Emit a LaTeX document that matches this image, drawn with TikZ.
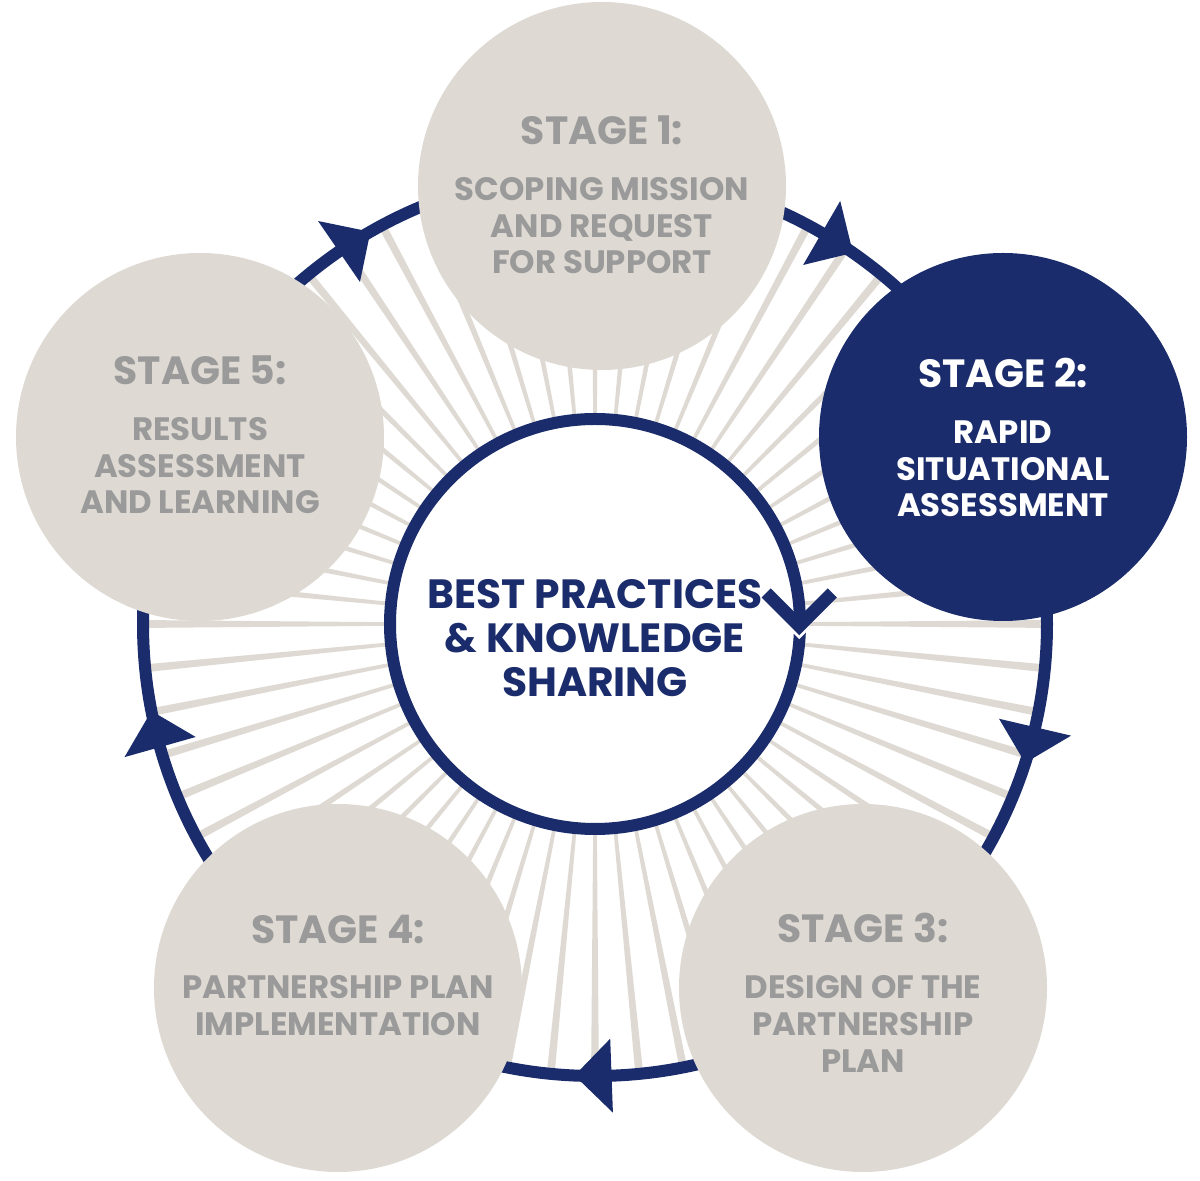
\documentclass[tikz,border=0pt]{standalone}
\usepackage{fontspec}
\setmainfont{Poppins}
\usetikzlibrary{positioning}
\definecolor{stagenavy}{HTML}{1A2C6B}
\definecolor{stonegray}{HTML}{DEDAD3}
\definecolor{labelgray}{HTML}{9A9A9A}

\begin{document}
\begin{tikzpicture}[x=1bp,y=1bp,
    stage/.style={circle,fill=stonegray,minimum size=368bp,inner sep=0pt},
    stagetitle/.style={font=\fontsize{39.5}{39.5}\selectfont\bfseries,text=labelgray,inner sep=0pt},
    stagetext/.style={font=\fontsize{32.5}{37}\selectfont\bfseries,text=labelgray,align=center,inner sep=0pt},
    hubtext/.style={font=\fontsize{41}{44.5}\selectfont\bfseries,text=stagenavy,align=center,inner sep=0pt}]
\useasboundingbox (0,0) rectangle (1200,1181);
\coordinate (c) at (595,557);

% Rayons et anneau
\begin{scope}[shift={(c)}]
\foreach \a in {0,5.625,...,355}
  \fill[stonegray] (0,0) -- (\a-0.5:452) -- (\a+0.5:452) -- cycle;
\draw[stagenavy,line width=12bp] (0,0) circle (452);
\foreach \a in {124.5,59.9,-13.2,-87.9,195.8}
  \fill[stagenavy] (\a:415) -- (\a-4.7:452) -- (\a:489) -- cycle;
\end{scope}

% Etapes
\node[stage] (s1) at (602,995) {};
\node[stage,fill=stagenavy] (s2) at (1003,744) {};
\node[stage] (s3) at (863,193) {};
\node[stage] (s4) at (338,193) {};
\node[stage] (s5) at (200,744) {};

% Cercle central
\node[circle,draw=stagenavy,line width=12bp,fill=white,minimum size=410bp,inner sep=0pt] (hub) at (c) {};
\coordinate (chev) at ([xshift=205,yshift=-2]hub.center);
\draw[white,line width=3bp] (chev) ++(-9,-2.1) -- ++(9,-9) -- ++(9,9);
\draw[stagenavy,line width=13bp] (chev) ++(-33,33) -- (chev) -- ++(33,33);

% Textes
\node[stagetitle] (t1) at ([yshift=56]s1.center) {STAGE 1:};
\node[stagetext,below=32bp of t1] (b1) {SCOPING MISSION\\AND REQUEST\\FOR SUPPORT};
\node[stagetitle,text=white] (t2) at ([yshift=64]s2.center) {STAGE 2:};
\node[stagetext,text=white,below=32bp of t2] (b2) {RAPID\\SITUATIONAL\\ASSESSMENT};
\node[stagetitle] (t3) at ([yshift=60]s3.center) {STAGE 3:};
\node[stagetext,below=32bp of t3] (b3) {DESIGN OF THE\\PARTNERSHIP\\PLAN};
\node[stagetitle] (t4) at ([yshift=59]s4.center) {STAGE 4:};
\node[stagetext,below=32bp of t4] (b4) {PARTNERSHIP PLAN\\IMPLEMENTATION};
\node[stagetitle] (t5) at ([yshift=67]s5.center) {STAGE 5:};
\node[stagetext,below=32bp of t5] (b5) {RESULTS\\ASSESSMENT\\AND LEARNING};
\node[hubtext] (ht) at ([yshift=-14]hub.center) {BEST PRACTICES\\\& KNOWLEDGE\\SHARING};

\end{tikzpicture}
\end{document}
